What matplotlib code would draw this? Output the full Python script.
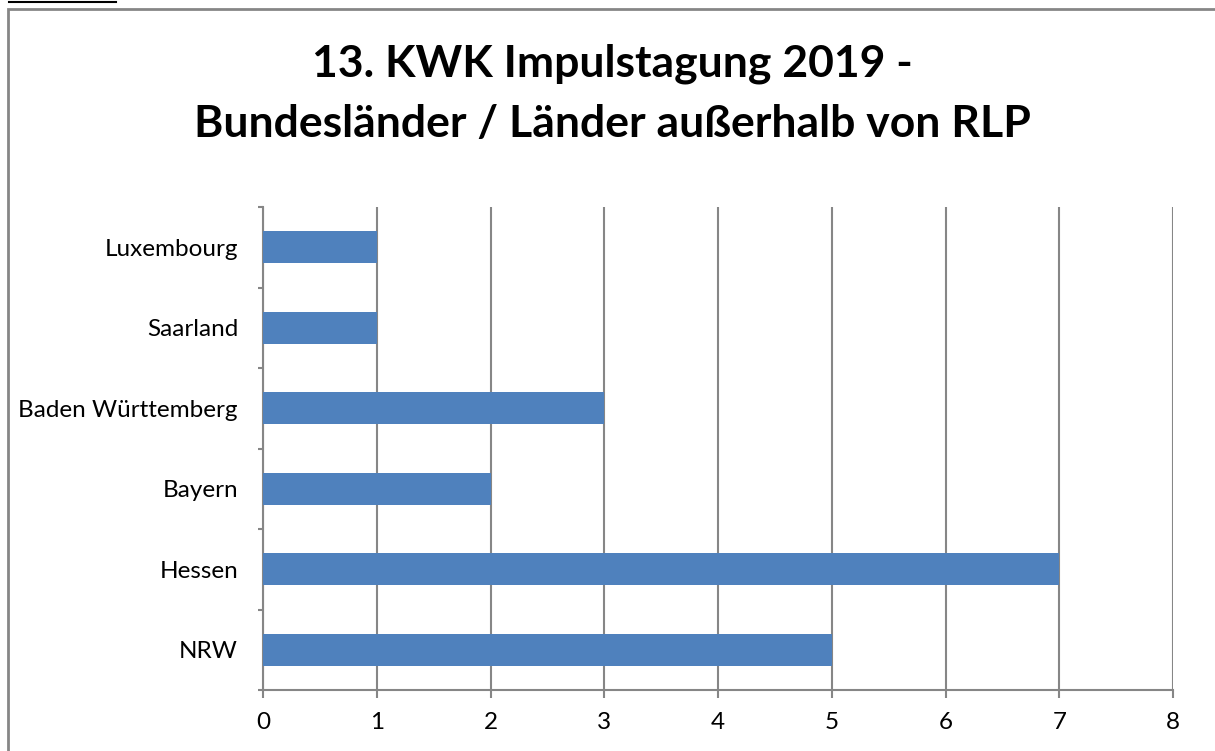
import numpy as np
import matplotlib.pyplot as plt
from matplotlib.patches import Rectangle
from matplotlib.lines import Line2D

plt.rcParams['font.family'] = ['Lato', 'DejaVu Sans']

laender = ['NRW', 'Hessen', 'Bayern', 'Baden Württemberg', 'Saarland', 'Luxembourg']
anzahl = [5, 7, 2, 3, 1, 1]
xticks = [0, 1, 2, 3, 4, 5, 6, 7, 8]

gray = '#868686'

fig = plt.figure(figsize=(12.15, 7.51), dpi=100)
ax = fig.add_axes([263/1215, 61/751, 910/1215, 483/751])

pos = np.arange(len(laender))
ax.barh(pos, anzahl, height=0.4, color='#4F81BD', zorder=3)

ax.set_xlim(0, 8)
ax.set_ylim(-0.5, len(laender) - 0.5)
ax.set_xticks(xticks)
ax.set_xticklabels([str(v) for v in xticks], fontsize=17.5)
ax.set_yticks(pos)
ax.set_yticklabels(laender, fontsize=17.5)
ax.set_yticks(np.arange(-0.5, len(laender)), minor=True)

ax.tick_params(axis='y', which='major', length=0, pad=18)
ax.tick_params(axis='y', which='minor', length=3.6, width=1.5, color=gray, direction='out')
ax.tick_params(axis='x', length=6, width=1.5, color=gray, direction='out', pad=10)

ax.grid(axis='x', color=gray, linewidth=1.5, zorder=0)
ax.set_axisbelow(True)
for side in ['top', 'right']:
    ax.spines[side].set_visible(False)
for side in ['left', 'bottom']:
    ax.spines[side].set_color(gray)
    ax.spines[side].set_linewidth(1.5)

fig.text(612/1215, 1 - 44/751, '13. KWK Impulstagung 2019 -\nBundesländer / Länder außerhalb von RLP',
         ha='center', va='top', fontsize=32, fontweight='bold', linespacing=1.6)

# outer chart frame and top-left line
fig.patches.append(Rectangle((8/1215, -0.05), 1.1, 1 - 9/751 + 0.05, transform=fig.transFigure,
                             fill=False, edgecolor=gray, linewidth=2))
fig.lines.append(Line2D([9/1215, 116/1215], [1 - 1.5/751, 1 - 1.5/751], transform=fig.transFigure,
                        color='black', linewidth=1.5))

fig.savefig('out.png', dpi=100)
